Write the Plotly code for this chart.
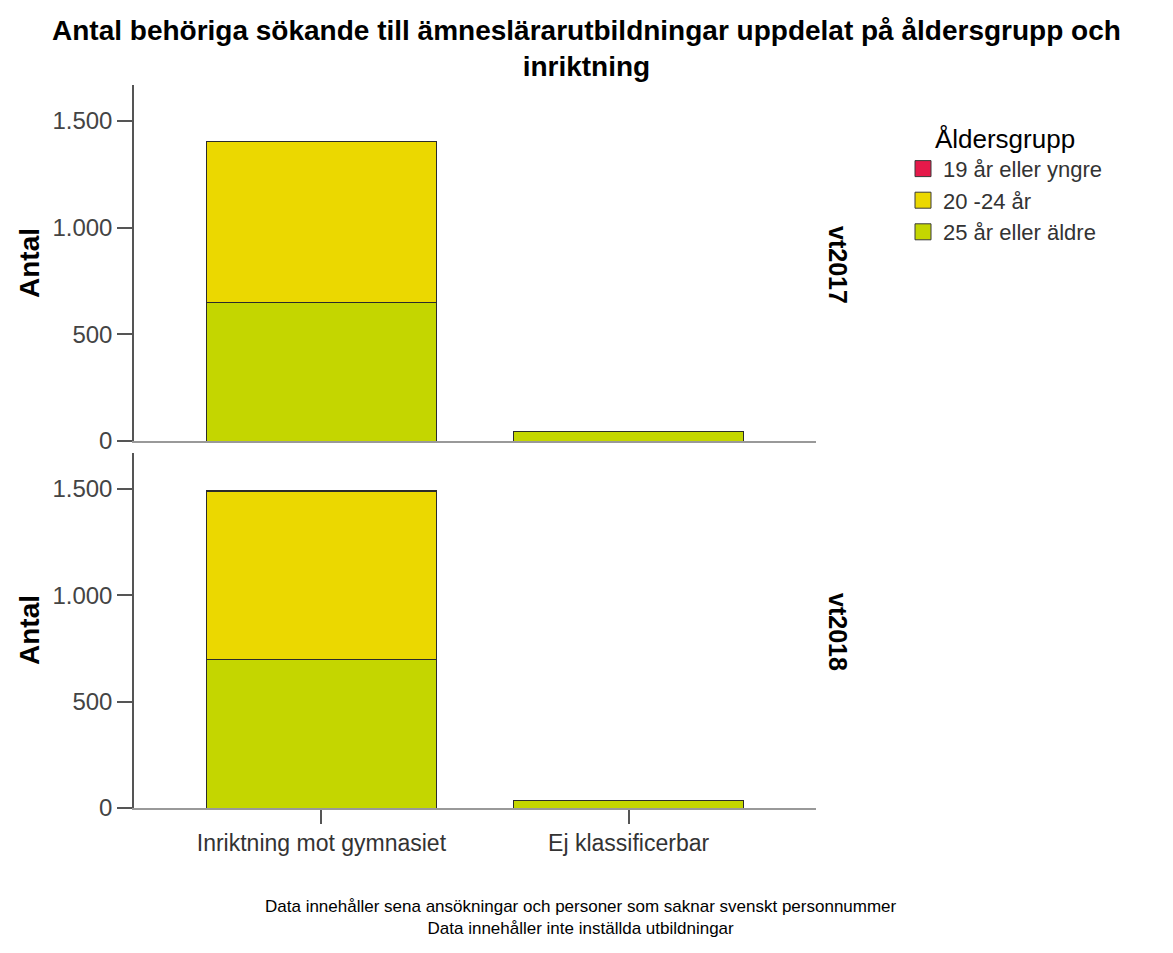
import plotly.graph_objects as go

# Categories, panels and age groups
categories = ["Inriktning mot gymnasiet", "Ej klassificerbar"]
terms = ["vt2017", "vt2018"]
age_groups = ["19 år eller yngre", "20 -24 år", "25 år eller äldre"]

# Applicant counts per term (one list per age group, in category order)
vt2017_19 = [3, 0]
vt2017_20_24 = [752, 0]
vt2017_25 = [650, 45]
vt2018_19 = [4, 0]
vt2018_20_24 = [792, 0]
vt2018_25 = [697, 37]

yticks = [0, 500, 1000, 1500]

colors = {
    "19 år eller yngre": "#E5194A",
    "20 -24 år": "#EBD800",
    "25 år eller äldre": "#C4D600",
}

panel_data = {
    "vt2017": {"25 år eller äldre": vt2017_25, "20 -24 år": vt2017_20_24, "19 år eller yngre": vt2017_19},
    "vt2018": {"25 år eller äldre": vt2018_25, "20 -24 år": vt2018_20_24, "19 år eller yngre": vt2018_19},
}

font_family = "Liberation Sans, Arial, sans-serif"

# Plot area in pixels
W, H = 1173, 953
L, R, T, B = 134, 357, 85, 145
PW, PH = W - L - R, H - T - B


def px_x(x):
    return (x - L) / PW


def px_y(y):
    return (H - B - y) / PH


fig = go.Figure()

# Stacked bars, bottom segment first
axis_pairs = {"vt2017": ("x", "y"), "vt2018": ("x2", "y2")}
for term in terms:
    xa, ya = axis_pairs[term]
    for group in ["25 år eller äldre", "20 -24 år", "19 år eller yngre"]:
        fig.add_trace(go.Bar(
            x=categories, y=panel_data[term][group], name=group,
            xaxis=xa, yaxis=ya, width=0.75,
            marker=dict(color=colors[group], line=dict(color="#2b2b2b", width=1)),
            showlegend=False, hoverinfo="x+y+name",
        ))

# Legend entries
for group in age_groups:
    fig.add_trace(go.Scatter(
        x=[None], y=[None], mode="markers", name=group,
        marker=dict(symbol="square", size=19, color=colors[group],
                    line=dict(color="#3a3a3a", width=1)),
        showlegend=True,
    ))

yaxis_common = dict(
    range=[0, 1668], tickvals=yticks, tickformat=",d",
    ticks="outside", ticklen=15,
    tickcolor="#555555", tickwidth=1.5, showline=True, linecolor="#555555",
    linewidth=1.5, showgrid=False, zeroline=False,
    tickfont=dict(size=24, color="#444444", family=font_family),
)

fig.update_layout(
    width=W, height=H,
    paper_bgcolor="white", plot_bgcolor="white",
    separators=",.",
    barmode="stack",
    margin=dict(l=L, r=R, t=T, b=B),
    font=dict(family=font_family),
    xaxis=dict(
        domain=[0, 1], anchor="y", range=[-0.61, 1.61],
        showline=True, linecolor="#999999", linewidth=1.5,
        showticklabels=False, ticks="", showgrid=False, zeroline=False,
        matches="x2",
    ),
    xaxis2=dict(
        domain=[0, 1], anchor="y2", range=[-0.61, 1.61],
        showline=True, linecolor="#999999", linewidth=1.5,
        ticks="outside", ticklen=14, tickcolor="#555555", tickwidth=1.5,
        showgrid=False, zeroline=False,
        tickfont=dict(size=23, color="#333333", family=font_family),
    ),
    yaxis=dict(domain=[px_y(441), 1], anchor="x", **yaxis_common),
    yaxis2=dict(domain=[0, px_y(453)], anchor="x2", **yaxis_common),
    legend=dict(
        x=px_x(903), xanchor="left", y=px_y(114), yanchor="top",
        traceorder="normal",
        title=dict(text="Åldersgrupp", side="top center",
                   font=dict(size=26, color="black", family=font_family)),
        font=dict(size=22, color="#333333", family=font_family),
        itemwidth=30, bgcolor="rgba(0,0,0,0)",
    ),
)


def label(text, x, y, size, angle=0, bold=False, color="black"):
    return dict(
        text=f"<b>{text}</b>" if bold else text,
        xref="paper", yref="paper", x=px_x(x), y=px_y(y),
        xanchor="center", yanchor="middle", textangle=angle,
        showarrow=False, font=dict(size=size, color=color, family=font_family),
    )


annotations = [
    label("Antal behöriga sökande till ämneslärarutbildningar uppdelat på åldersgrupp och<br>inriktning",
          586, 49, 28, bold=True),
    label("Antal", 29, 263, 28, angle=-90, bold=True),
    label("Antal", 29, 630, 28, angle=-90, bold=True),
    label("vt2017", 838, 265, 25, angle=90, bold=True),
    label("vt2018", 838, 632, 25, angle=90, bold=True),
    label("Data innehåller sena ansökningar och personer som saknar svenskt personnummer<br>"
          "Data innehåller inte inställda utbildningar", 581, 918, 17),
]
fig.update_layout(annotations=annotations)

fig.write_html("out.html")
